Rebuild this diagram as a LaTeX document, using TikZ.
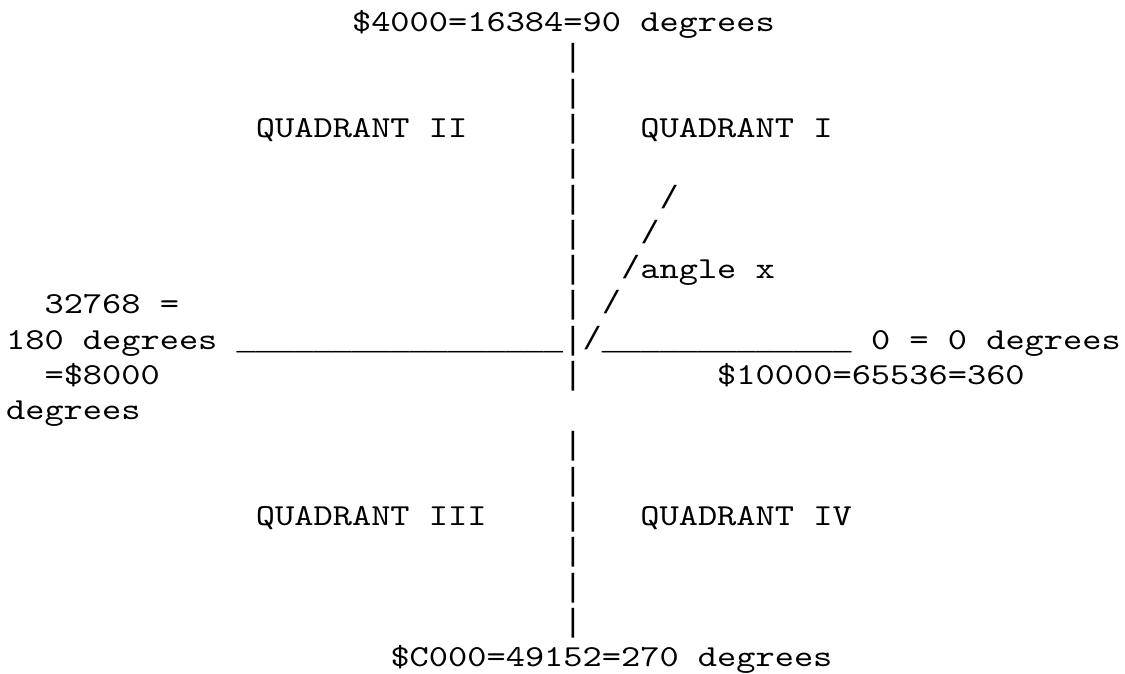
\documentclass[tikz,border=0pt]{standalone}
\usepackage{fontspec}
\newfontfamily\asciifont{lmmono10-regular}[Extension=.otf,FakeStretch=1.2]
\newfontfamily\rulefont{Liberation Mono}
\begin{document}
\begin{tikzpicture}[x=1pt,y=1pt,
  t/.style={anchor=base west,inner sep=0pt,outer sep=0pt,
    font=\asciifont\fontsize{30.5}{30.5}\selectfont},
  r/.style={anchor=base west,inner sep=0pt,outer sep=0pt,
    font=\rulefont\fontsize{32}{32}\selectfont}]
\def\cw{19.22}\def\xo{6.1}\def\lh{35.27}\def\yo{31.7}
\fill[white] (0,0) rectangle (1125,-673);
\useasboundingbox (0,0) rectangle (1125,-673);
% line 0
\node[t] (top) at ({\xo+\cw*18},{-\yo-\lh*0}) {\$4000=16384=90 degrees};
% vertical axis bars
\node[r] (b1) at ({\xo+\cw*29},{-\yo-\lh*1}) {|};
\node[r] (b2) at ({\xo+\cw*29},{-\yo-\lh*2}) {|};
\node[r] (b3) at ({\xo+\cw*29},{-\yo-\lh*3}) {|};
\node[r] (b4) at ({\xo+\cw*29},{-\yo-\lh*4}) {|};
\node[r] (b5) at ({\xo+\cw*29},{-\yo-\lh*5}) {|};
\node[r] (b6) at ({\xo+\cw*29},{-\yo-\lh*6}) {|};
\node[r] (b7) at ({\xo+\cw*29},{-\yo-\lh*7}) {|};
\node[r] (b8) at ({\xo+\cw*29},{-\yo-\lh*8}) {|};
\node[r] (b9) at ({\xo+\cw*29},{-\yo-\lh*9}) {|};
\node[r] (b10) at ({\xo+\cw*29},{-\yo-\lh*10}) {|};
\node[r] (b12) at ({\xo+\cw*29},{-\yo-\lh*12}) {|};
\node[r] (b13) at ({\xo+\cw*29},{-\yo-\lh*13}) {|};
\node[r] (b14) at ({\xo+\cw*29},{-\yo-\lh*14}) {|};
\node[r] (b15) at ({\xo+\cw*29},{-\yo-\lh*15}) {|};
\node[r] (b16) at ({\xo+\cw*29},{-\yo-\lh*16}) {|};
\node[r] (b17) at ({\xo+\cw*29},{-\yo-\lh*17}) {|};
% quadrant labels
\node[t] (q2) at ({\xo+\cw*13},{-\yo-\lh*3}) {QUADRANT II};
\node[t] (q1) at ({\xo+\cw*33},{-\yo-\lh*3}) {QUADRANT I};
\node[t] (q3) at ({\xo+\cw*13},{-\yo-\lh*14}) {QUADRANT III};
\node[t] (q4) at ({\xo+\cw*33},{-\yo-\lh*14}) {QUADRANT IV};
% angle ray
\node[r] (s5) at ({\xo+\cw*34},{-\yo-\lh*5}) {/};
\node[r] (s6) at ({\xo+\cw*33},{-\yo-\lh*6}) {/};
\node[r] (s7) at ({\xo+\cw*32},{-\yo-\lh*7}) {/};
\node[t] (ang) at ({\xo+\cw*33},{-\yo-\lh*7}) {angle x};
\node[r] (s8) at ({\xo+\cw*31},{-\yo-\lh*8}) {/};
\node[r] (s9) at ({\xo+\cw*30},{-\yo-\lh*9}) {/};
% left labels
\node[t] (l8) at ({\xo+\cw*2},{-\yo-\lh*8}) {32768 =};
\node[t] (l9) at ({\xo+\cw*0},{-\yo-\lh*9}) {180 degrees};
\node[t] (l10) at ({\xo+\cw*2},{-\yo-\lh*10}) {=\$8000};
\node[t] (l11) at ({\xo+\cw*0},{-\yo-\lh*11}) {degrees};
% horizontal axis
\node[r] (hl) at ({\xo+\cw*12},{-\yo-\lh*9}) {\_\_\_\_\_\_\_\_\_\_\_\_\_\_\_\_\_};
\node[r] (hr) at ({\xo+\cw*31},{-\yo-\lh*9}) {\_\_\_\_\_\_\_\_\_\_\_\_\_};
% right labels
\node[t] (r9) at ({\xo+\cw*45},{-\yo-\lh*9}) {0 = 0 degrees};
\node[t] (r10) at ({\xo+\cw*37},{-\yo-\lh*10}) {\$10000=65536=360};
% bottom
\node[t] (bot) at ({\xo+\cw*20},{-\yo-\lh*18}) {\$C000=49152=270 degrees};
\end{tikzpicture}
\end{document}
